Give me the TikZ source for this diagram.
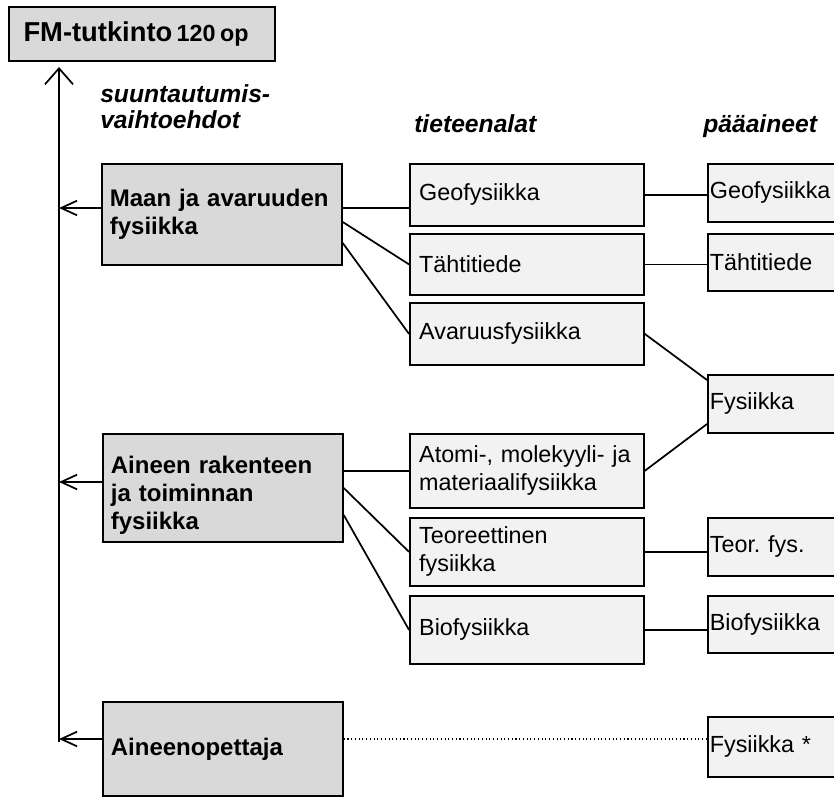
\documentclass[tikz,border=0pt]{standalone}
\usepackage{fontspec}
\setmainfont{Liberation Sans}
\usetikzlibrary{arrows.meta}
\frenchspacing
\hyphenpenalty=10000

\definecolor{tumma}{RGB}{217,217,217}
\definecolor{vaalea}{RGB}{242,242,242}

\tikzset{
  laatikko/.style={draw, line width=1.3pt, anchor=north west, align=left},
  suunta/.style={laatikko, fill=tumma, font=\fontsize{18}{21}\selectfont\bfseries,
    inner xsep=6pt, text width=168pt},
  ala/.style={laatikko, fill=vaalea, font=\fontsize{17.5}{21}\selectfont,
    inner xsep=7pt, text width=161.5pt},
  aine/.style={laatikko, fill=vaalea, font=\fontsize{17.5}{21}\selectfont,
    inner xsep=1.5pt, text width=117pt},
  otsikko/.style={font=\fontsize{18.5}{19.5}\selectfont\bfseries\itshape, inner sep=0pt, align=left},
  yhteys/.style={line width=1.3pt},
  nuoli/.style={line width=1.3pt, -{Straight Barb[length=12pt, width=21pt]}},
  sivunuoli/.style={line width=1.3pt, -{Straight Barb[length=12pt, width=11pt]}}
}

\begin{document}
\begin{tikzpicture}[x=0.75pt, y=-0.75pt]
\clip (0,0) rectangle (834,796);

\node[laatikko, fill=tumma, inner xsep=11pt, text width=177.5pt, minimum height=40.5pt] (fm) at (8,6)
  {\bfseries\fontsize{20.5}{21}\selectfont FM-tutkinto {\fontsize{17.5}{21}\selectfont 120 op}};

% otsikot
\node[otsikko, anchor=west] (suuntaots) at (100,107) {suuntautumis-\\vaihtoehdot};
\node[otsikko, anchor=base west] (alaots) at (414,132) {tieteenalat};
\node[otsikko, anchor=base west] (aineots) at (703,132) {pääaineet};

% suuntautumisvaihtoehdot
\node[suunta, minimum height=75.75pt] (maan) at (101,163) {Maan ja avaruuden\\fysiikka};
\node[suunta, minimum height=81pt] (aineen) at (102,433) {\rule{0pt}{23.5pt}Aineen rakenteen\\ja toiminnan\\fysiikka};
\node[suunta, minimum height=70.5pt] (opettaja) at (102,701) {Aineenopettaja};

% tieteenalat
\node[ala, minimum height=46.5pt] (geo) at (409,163) {Geofysiikka};
\node[ala, minimum height=45.75pt] (tahti) at (409,233) {Tähtitiede};
\node[ala, minimum height=46.5pt] (avaruus) at (409,302) {Avaruusfysiikka};
\node[ala, minimum height=55.5pt] (atomi) at (409,433) {Atomi-, molekyyli- ja\\materiaalifysiikka};
\node[ala, minimum height=51pt] (teor) at (409,517) {Teoreettinen\\fysiikka};
\node[ala, minimum height=51pt] (bio) at (409,595) {Biofysiikka};

% pääaineet
\node[aine, minimum height=43.5pt] (pgeo) at (707,163) {Geofysiikka};
\node[aine, minimum height=42.75pt] (ptahti) at (707,233) {Tähtitiede};
\node[aine, minimum height=43.5pt] (pfys) at (707,374) {Fysiikka};
\node[aine, minimum height=43.5pt] (pteor) at (707,517) {Teor. fys.};
\node[aine, minimum height=42.75pt] (pbio) at (707,595) {Biofysiikka};
\node[aine, minimum height=45pt] (pfysope) at (707,716) {Fysiikka *};

% runko
\coordinate (runkoala) at (59,742);
\coordinate (runkoyla) at (59,67);
\draw[nuoli] (runkoala) -- (runkoyla);
\foreach \solmu/\y in {maan/208, aineen/482, opettaja/739}
	\draw[sivunuoli] (\solmu.west |- 0,\y) -- (runkoala |- 0,\y);

% suunta -> tieteenala
\draw[yhteys] (maan.east |- 0,208) -- (geo.west |- 0,208);
\draw[yhteys] (maan.east |- 0,222) -- (tahti.west);
\draw[yhteys] (maan.east |- 0,243) -- (avaruus.west);
\draw[yhteys] (aineen.east |- atomi.west) -- (atomi.west);
\draw[yhteys] (aineen.east |- 0,488) -- (teor.west);
\draw[yhteys] (aineen.east |- 0,515) -- (bio.west);

% tieteenala -> pääaine
\draw[yhteys] (geo.east) -- (geo.east -| pgeo.west);
\draw[yhteys] (tahti.east) -- (tahti.east -| ptahti.west);
\draw[yhteys] (avaruus.east) -- (pfys.west |- 0,380);
\draw[yhteys] (atomi.east) -- (pfys.west |- 0,424);
\draw[yhteys] (teor.east) -- (teor.east -| pteor.west);
\draw[yhteys] (bio.east) -- (bio.east -| pbio.west);
\draw[line width=0.8pt, dotted] (opettaja.east |- 0,739) -- (pfysope.west |- 0,739);
\end{tikzpicture}
\end{document}
